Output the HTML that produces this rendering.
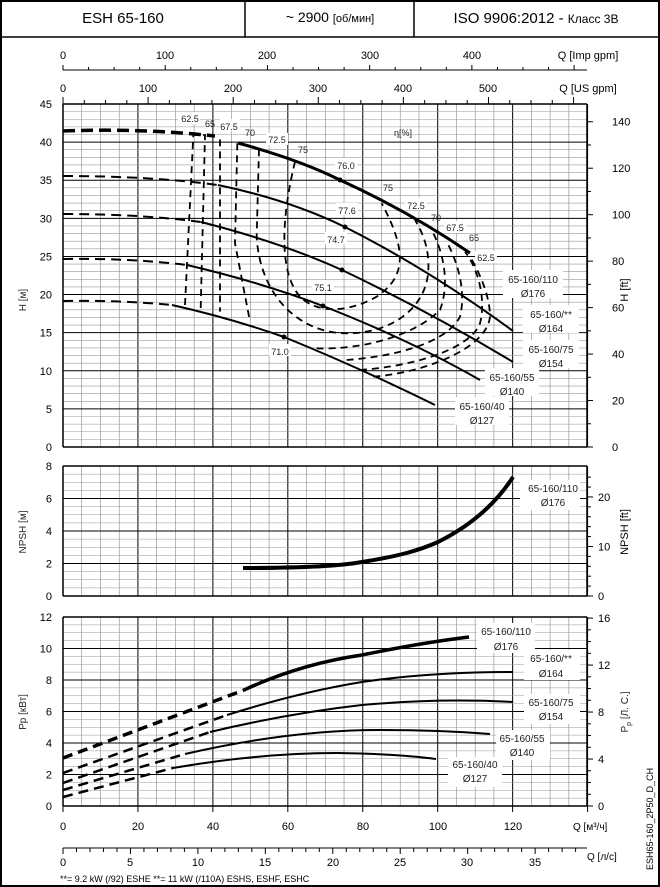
<!DOCTYPE html>
<html><head><meta charset="utf-8"><style>
body{margin:0;background:#fff}
svg{display:block;font-family:"Liberation Sans",sans-serif}
.t{font-size:11px;fill:#000}
.s{font-size:9px;fill:#222}
.lb{font-size:10px;fill:#222}
</style></head><body>
<svg id="s" width="660" height="887" viewBox="0 0 660 887" xmlns="http://www.w3.org/2000/svg">
<rect x="1" y="1" width="658" height="885" fill="#fff" stroke="#000" stroke-width="2"/>
<line x1="1" y1="37" x2="659" y2="37" stroke="#000" stroke-width="1.5"/>
<line x1="245" y1="1" x2="245" y2="37" stroke="#000" stroke-width="1.5"/>
<line x1="414" y1="1" x2="414" y2="37" stroke="#000" stroke-width="1.5"/>
<text x="123" y="23" text-anchor="middle" style="font-size:15px">ESH 65-160</text>
<text x="330" y="22" text-anchor="middle" style="font-size:14px">~ 2900 <tspan style="font-size:11px">[об/мин]</tspan></text>
<text x="536" y="23" text-anchor="middle" style="font-size:15px">ISO 9906:2012 - <tspan style="font-size:12px">Класс 3В</tspan></text>
<g id="grid"></g>
<g id="ticks"></g>
<g class="t" text-anchor="middle">
<text x="63" y="59">0</text><text x="165" y="59">100</text><text x="267" y="59">200</text><text x="370" y="59">300</text><text x="472" y="59">400</text>
<text x="63" y="92">0</text><text x="148" y="92">100</text><text x="233" y="92">200</text><text x="318" y="92">300</text><text x="403" y="92">400</text><text x="488" y="92">500</text>
</g>
<text x="588" y="59" class="t" text-anchor="middle">Q [Imp gpm]</text>
<text x="588" y="92" class="t" text-anchor="middle">Q [US gpm]</text>
<g class="t" text-anchor="middle">
<text x="63" y="830">0</text><text x="138" y="830">20</text><text x="213" y="830">40</text><text x="288" y="830">60</text><text x="363" y="830">80</text><text x="438" y="830">100</text><text x="513" y="830">120</text>
<text x="63" y="866">0</text><text x="130" y="866">5</text><text x="198" y="866">10</text><text x="265" y="866">15</text><text x="333" y="866">20</text><text x="400" y="866">25</text><text x="467" y="866">30</text><text x="535" y="866">35</text>
</g>
<text x="573" y="830" style="font-size:10px">Q [м³/ч]</text>
<text x="587" y="860" style="font-size:10px">Q [л/с]</text>
<text x="60" y="882" style="font-size:9px">**= 9.2 kW (/92) ESHE  **= 11 kW (/110A) ESHS, ESHF, ESHC</text>
<text transform="translate(653,870) rotate(-90)" style="font-size:9px">ESH65-160_2P50_D_CH</text>
<text transform="translate(26,300) rotate(-90)" class="lb" text-anchor="middle">H [м]</text>
<text transform="translate(26,532) rotate(-90)" class="lb" text-anchor="middle">NPSH [м]</text>
<text transform="translate(26,712) rotate(-90)" class="lb" text-anchor="middle">Pp [кВт]</text>
<text transform="translate(628,290) rotate(-90)" class="t" text-anchor="middle">H [ft]</text>
<text transform="translate(628,532) rotate(-90)" class="t" text-anchor="middle">NPSH [ft]</text>
<text transform="translate(628,712) rotate(-90)" class="lb" text-anchor="middle">P<tspan style="font-size:7px" dy="3">р</tspan><tspan dy="-3"> [Л. С.]</tspan></text>

<g fill="none" stroke="#000">
<path d="M63,131 Q140,128 215,136" stroke-width="3.5" stroke-dasharray="12,6"/>
<path d="M238,143 Q300,160 340,180 Q410,212 470,253" stroke-width="3"/>
<path d="M63,176 Q150,176 218,185" stroke-width="2" stroke-dasharray="10,6"/>
<path d="M218,185 Q290,200 345,227 Q430,270 513,331" stroke-width="2"/>
<path d="M63,214 Q140,214 201,222" stroke-width="2" stroke-dasharray="10,6"/>
<path d="M201,222 Q280,242 342,270 Q430,312 513,362" stroke-width="2"/>
<path d="M63,259 Q130,258 187,265" stroke-width="2" stroke-dasharray="10,6"/>
<path d="M187,265 Q260,282 323,306 Q410,340 480,380" stroke-width="2"/>
<path d="M63,301 Q120,300 172,305" stroke-width="2" stroke-dasharray="10,6"/>
<path d="M172,305 Q230,318 284,337 Q360,368 435,405" stroke-width="2"/>
</g>
<g fill="#000"><circle cx="340" cy="180" r="2.5"/><circle cx="345" cy="227" r="2.5"/><circle cx="342" cy="270" r="2.5"/><circle cx="323" cy="306" r="2.5"/><circle cx="284" cy="337" r="2.5"/></g>
<g transform="translate(160,110) scale(0.33333)" fill="none" stroke="#000" stroke-width="1.8" stroke-dasharray="7,5">
<path vector-effect="non-scaling-stroke" d="M75,585 L100,75 L135,75 L122,600"/>
<path vector-effect="non-scaling-stroke" d="M180,88 L180,605"/>
<path vector-effect="non-scaling-stroke" d="M232,100 L225,400 L270,635"/>
<path vector-effect="non-scaling-stroke" d="M297,118 L290,380 C300,560 420,670 560,670 C700,670 800,590 805,480 C808,420 790,370 765,330"/>
<path vector-effect="non-scaling-stroke" d="M405,155 C370,300 350,480 420,560 C470,610 560,610 650,560 C740,500 740,420 665,280"/>
<path vector-effect="non-scaling-stroke" d="M470,715 C600,720 760,680 840,600 C870,520 850,430 820,370"/>
<path vector-effect="non-scaling-stroke" d="M560,750 C700,740 860,700 900,620 C920,540 890,450 860,395"/>
<path vector-effect="non-scaling-stroke" d="M600,780 C750,770 930,720 960,640 C980,560 950,470 915,425"/>
<path vector-effect="non-scaling-stroke" d="M640,800 C780,790 980,720 990,620 C990,560 960,490 930,440"/>
</g>
<g class="s" text-anchor="middle">
<g fill="#fff" stroke="none">
<rect x="178" y="112" width="22" height="12"/><rect x="220" y="119" width="20" height="12"/><rect x="266" y="133" width="22" height="12"/>
<rect x="335" y="158" width="22" height="12"/><rect x="336" y="203" width="22" height="12"/><rect x="325" y="232" width="22" height="12"/><rect x="312" y="280" width="22" height="12"/><rect x="269" y="344" width="22" height="12"/>
<rect x="405" y="198" width="22" height="12"/><rect x="444" y="221" width="22" height="12"/><rect x="475" y="251" width="22" height="12"/>
</g>
<text x="190" y="122">62.5</text><text x="210" y="127">65</text><text x="229" y="130">67.5</text><text x="250" y="136">70</text><text x="277" y="143">72.5</text><text x="303" y="153">75</text>
<text x="403" y="136">η[%]</text><text x="346" y="169">76.0</text><text x="388" y="191">75</text><text x="347" y="214">77.6</text><text x="416" y="209">72.5</text><text x="436" y="221">70</text><text x="336" y="243">74.7</text><text x="455" y="231">67.5</text><text x="474" y="241">65</text><text x="486" y="261">62.5</text><text x="323" y="291">75.1</text><text x="280" y="355">71.0</text>
</g>
<g class="lb" text-anchor="middle">
<rect x="503" y="270" width="60" height="28" fill="#fff"/><text x="533" y="283">65-160/110</text><text x="533" y="297">Ø176</text>
<rect x="523" y="305" width="56" height="28" fill="#fff"/><text x="551" y="318">65-160/**</text><text x="551" y="332">Ø164</text>
<rect x="523" y="340" width="56" height="28" fill="#fff"/><text x="551" y="353">65-160/75</text><text x="551" y="367">Ø154</text>
<rect x="485" y="368" width="54" height="28" fill="#fff"/><text x="512" y="381">65-160/55</text><text x="512" y="395">Ø140</text>
<rect x="455" y="397" width="54" height="28" fill="#fff"/><text x="482" y="410">65-160/40</text><text x="482" y="424">Ø127</text>
</g>
<path d="M243,568 C300,568 340,566 362,562 C400,556 420,550 438,542 C470,526 495,505 513,477" fill="none" stroke="#000" stroke-width="4"/>
<g class="lb" text-anchor="middle"><rect x="520" y="480" width="60" height="30" fill="#fff"/><text x="553" y="492">65-160/110</text><text x="553" y="506">Ø176</text></g>
<g fill="none" stroke="#000">
<path d="M63,758 L244,690" stroke-width="3.5" stroke-dasharray="10,6"/>
<path d="M244,690 Q300,664 362,655 Q420,643 469,637" stroke-width="3.5"/>
<path d="M63,773 L227,715" stroke-width="2.5" stroke-dasharray="10,6"/>
<path d="M227,715 Q300,692 362,682 Q430,672 513,672" stroke-width="2"/>
<path d="M63,783 L210,732" stroke-width="2.5" stroke-dasharray="10,6"/>
<path d="M210,732 Q290,713 362,705 Q440,698 513,702" stroke-width="2"/>
<path d="M63,790 L185,754" stroke-width="2.5" stroke-dasharray="10,6"/>
<path d="M185,754 Q290,730 379,730 Q440,730 490,734" stroke-width="2"/>
<path d="M63,797 L173,768" stroke-width="2.5" stroke-dasharray="10,6"/>
<path d="M173,768 Q260,753 337,753 Q400,754 436,759" stroke-width="2"/>
</g>
<g class="lb" text-anchor="middle">
<rect x="477" y="623" width="58" height="30" fill="#fff"/><text x="506" y="635">65-160/110</text><text x="506" y="650">Ø176</text>
<rect x="524" y="650" width="56" height="30" fill="#fff"/><text x="551" y="662">65-160/**</text><text x="551" y="677">Ø164</text>
<rect x="524" y="694" width="56" height="30" fill="#fff"/><text x="551" y="706">65-160/75</text><text x="551" y="720">Ø154</text>
<rect x="496" y="730" width="54" height="30" fill="#fff"/><text x="522" y="742">65-160/55</text><text x="522" y="756">Ø140</text>
<rect x="448" y="757" width="54" height="30" fill="#fff"/><text x="475" y="768">65-160/40</text><text x="475" y="782">Ø127</text>
</g>
</svg>
<script>
(function(){
var NS="http://www.w3.org/2000/svg",g=document.getElementById('grid'),tk=document.getElementById('ticks');
function L(p,x1,y1,x2,y2,c,w){var l=document.createElementNS(NS,'line');l.setAttribute('x1',x1);l.setAttribute('y1',y1);l.setAttribute('x2',x2);l.setAttribute('y2',y2);l.setAttribute('stroke',c);l.setAttribute('stroke-width',w);p.appendChild(l);}
function T(x,y,s,a){var t=document.createElementNS(NS,'text');t.setAttribute('x',x);t.setAttribute('y',y);t.setAttribute('class','t');t.setAttribute('text-anchor',a);t.textContent=s;tk.appendChild(t);}
var X0=63,X1=587,k=3.747;
var panels=[{top:104,bot:447,max:45,minor:1,major:5,lab:5,ft:0.3048,ftMax:140,ftStep:10,ftLab:20,lx:612},
{top:466,bot:596,max:8,minor:0.5,major:2,lab:2,ft:0.3048,ftMax:24,ftStep:2,ftLab:10,lx:598},
{top:617,bot:806,max:12,minor:0.5,major:2,lab:2,ft:0.7457,ftMax:16,ftStep:1,ftLab:4,lx:598}];
panels.forEach(function(p){
 var sc=(p.bot-p.top)/p.max;
 for(var q=0;q<=140;q+=5){var x=X0+q*k;L(g,x,p.top,x,p.bot,q%20==0?'#000':'#888',q%20==0?1:0.6);}
 for(var v=0;v<=p.max+1e-6;v+=p.minor){var y=p.bot-v*sc;var maj=Math.abs(v/p.major-Math.round(v/p.major))<1e-6;L(g,X0,y,X1,y,maj?'#000':'#999',maj?1:0.6);
  if(Math.abs(v/p.lab-Math.round(v/p.lab))<1e-6)T(52,y+4,String(Math.round(v)),'end');}
 L(g,X0,p.top,X0,p.bot,'#000',1.5);L(g,X1,p.top,X1,p.bot,'#000',1.5);L(g,X0,p.bot,X1,p.bot,'#000',1.5);L(g,X0,p.top,X1,p.top,'#000',1.5);
 for(var f=0;f<=p.ftMax+1e-6;f+=p.ftStep){var y=p.bot-f*p.ft*sc;if(y<p.top-1)break;var lab=Math.abs(f/p.ftLab-Math.round(f/p.ftLab))<1e-6;L(tk,X1,y,X1+(lab?6:4),y,'#000',1);if(lab)T(p.lx,y+4,String(f),'start');}
});
L(tk,X0,70,X1,70,'#000',1);for(var i=0;i<=500;i+=25){var x=X0+i*0.2728*k;if(x>X1)break;L(tk,x,70,x,i%100==0?65:67,'#000',1);}
L(tk,X0,104,X1,104,'#000',1);for(var i=0;i<=600;i+=25){var x=X0+i*0.2271*k;if(x>X1)break;L(tk,x,104,x,i%100==0?97:100,'#000',1);}
for(var q=0;q<=140;q+=20){L(tk,X0+q*k,806,X0+q*k,812,'#000',1);}
L(tk,X0,848,X1,848,'#000',1);for(var i=0;i<=39;i+=1){var x=X0+i*3.6*k;if(x>X1)break;L(tk,x,848,x,i%5==0?854:852,'#000',1);}
})();
</script>
</body></html>
